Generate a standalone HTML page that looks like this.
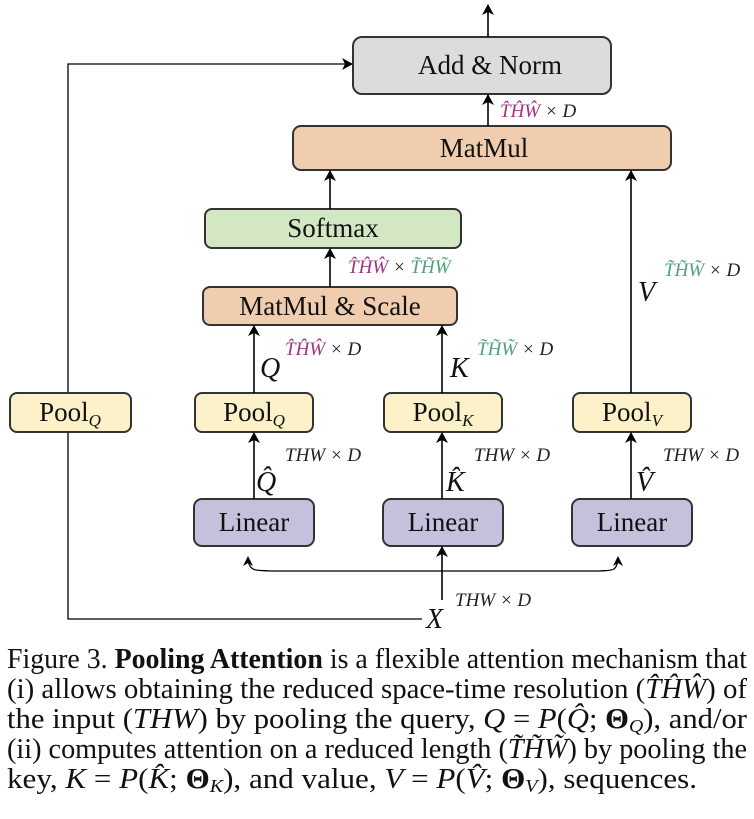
<!DOCTYPE html>
<html><head><meta charset="utf-8"><style>
html,body{margin:0;padding:0;background:#fff;}
svg{display:block;font-family:"Liberation Serif",serif;}
.it{font-style:italic}
</style></head><body>
<svg width="754" height="819" viewBox="0 0 754 819" xmlns="http://www.w3.org/2000/svg">
<defs>
<marker id="a" markerWidth="12" markerHeight="12" refX="10" refY="6" orient="auto" markerUnits="userSpaceOnUse">
<path d="M0,0 L11,6 L0,12 L3,6 z" fill="#000"/></marker>
</defs>
<g stroke="#333" stroke-width="2">
<rect x="353" y="37" width="258" height="57" rx="9" fill="#dcdcdc"/>
<rect x="293" y="126" width="378" height="44" rx="8" fill="#f1cdb0"/>
<rect x="205" y="209" width="256" height="39" rx="7" fill="#d3e7c3"/>
<rect x="203" y="287" width="254" height="38" rx="7" fill="#f1cdb0"/>
<rect x="195" y="393" width="118" height="39" rx="7" fill="#fcf1c9"/>
<rect x="384" y="393" width="118" height="39" rx="7" fill="#fcf1c9"/>
<rect x="573" y="393" width="118" height="39" rx="7" fill="#fcf1c9"/>
<rect x="194" y="499" width="120" height="47" rx="8" fill="#c5c0dc"/>
<rect x="383" y="499" width="120" height="47" rx="8" fill="#c5c0dc"/>
<rect x="572" y="499" width="120" height="47" rx="8" fill="#c5c0dc"/>
</g>
<g stroke="#000" stroke-width="1.6" fill="none">
<line x1="488" y1="37" x2="488" y2="5" marker-end="url(#a)"/>
<line x1="488" y1="126" x2="488" y2="95" marker-end="url(#a)"/>
<line x1="330" y1="209" x2="330" y2="171" marker-end="url(#a)"/>
<line x1="330" y1="287" x2="330" y2="249" marker-end="url(#a)"/>
<line x1="631" y1="393" x2="631" y2="171" marker-end="url(#a)"/>
<line x1="254" y1="393" x2="254" y2="326" marker-end="url(#a)"/>
<line x1="442" y1="393" x2="442" y2="326" marker-end="url(#a)"/>
<line x1="254" y1="499" x2="254" y2="433" marker-end="url(#a)"/>
<line x1="442" y1="499" x2="442" y2="433" marker-end="url(#a)"/>
<line x1="631" y1="499" x2="631" y2="433" marker-end="url(#a)"/>
<line x1="442" y1="600" x2="442" y2="547" marker-end="url(#a)"/>
<path d="M248,560 C250,572 256,570 270,571 L600,571 C612,570 616,572 618,560" stroke-width="1.3"/>
<path d="M422,619 L68,619 L68,64 L352,64" marker-end="url(#a)" stroke-width="1.3"/>
</g>
<path d="M248,556 L243,566 L248,563 L253,566 z" fill="#000"/>
<path d="M618,556 L613,566 L618,563 L623,566 z" fill="#000"/>
<rect x="10" y="393" width="121" height="39" rx="7" fill="#fcf1c9" stroke="#333" stroke-width="2"/>
<g font-size="27" text-anchor="middle" fill="#111">
<text x="490" y="74">Add &amp; Norm</text>
<text x="484" y="157">MatMul</text>
<text x="333" y="237">Softmax</text>
<text x="330" y="315">MatMul &amp; Scale</text>
<text x="70" y="421">Pool<tspan class="it" font-size="17" dy="5">Q</tspan></text>
<text x="254" y="421">Pool<tspan class="it" font-size="17" dy="5">Q</tspan></text>
<text x="443" y="421">Pool<tspan class="it" font-size="17" dy="5">K</tspan></text>
<text x="632" y="421">Pool<tspan class="it" font-size="17" dy="5">V</tspan></text>
<text x="254" y="531">Linear</text>
<text x="443" y="531">Linear</text>
<text x="632" y="531">Linear</text>
</g>
<g class="it" font-size="19" fill="#222">
<text x="500" y="117"><tspan fill="#a03382">T̂ĤŴ</tspan> × D</text>
<text x="348" y="273"><tspan fill="#a03382">T̂ĤŴ</tspan> × <tspan fill="#4fa37b">T̃H̃W̃</tspan></text>
<text x="285" y="355"><tspan fill="#a03382">T̂ĤŴ</tspan> × D</text>
<text x="477" y="355"><tspan fill="#4fa37b">T̃H̃W̃</tspan> × D</text>
<text x="664" y="276"><tspan fill="#4fa37b">T̃H̃W̃</tspan> × D</text>
<text x="285" y="461">THW × D</text>
<text x="474" y="461">THW × D</text>
<text x="663" y="461">THW × D</text>
<text x="455" y="606">THW × D</text>
</g>
<g class="it" font-size="28" fill="#111">
<text x="260" y="377">Q</text>
<text x="450" y="377">K</text>
<text x="638" y="301">V</text>
<text x="256" y="491">Q̂</text>
<text x="446" y="491">K̂</text>
<text x="636" y="491">V̂</text>
<text x="426" y="628">X</text>
</g>
<g font-size="28" fill="#111">
<text x="7" y="668" textLength="740" lengthAdjust="spacingAndGlyphs">Figure 3. <tspan font-weight="bold">Pooling Attention</tspan> is a flexible attention mechanism that</text>
<text x="7" y="698" textLength="740" lengthAdjust="spacingAndGlyphs">(i) allows obtaining the reduced space-time resolution (<tspan class="it">T̂ĤŴ</tspan>) of</text>
<text x="7" y="728" textLength="740" lengthAdjust="spacingAndGlyphs">the input (<tspan class="it">THW</tspan>) by pooling the query, <tspan class="it">Q</tspan> = <tspan class="it">P</tspan>(<tspan class="it">Q̂</tspan>; <tspan font-weight="bold">Θ</tspan><tspan class="it" font-size="18" dy="4">Q</tspan><tspan dy="-4">), and/or</tspan></text>
<text x="7" y="758" textLength="740" lengthAdjust="spacingAndGlyphs">(ii) computes attention on a reduced length (<tspan class="it">T̃H̃W̃</tspan>) by pooling the</text>
<text x="7" y="788" textLength="690" lengthAdjust="spacingAndGlyphs">key, <tspan class="it">K</tspan> = <tspan class="it">P</tspan>(<tspan class="it">K̂</tspan>; <tspan font-weight="bold">Θ</tspan><tspan class="it" font-size="18" dy="4">K</tspan><tspan dy="-4">), and value, </tspan><tspan class="it">V</tspan> = <tspan class="it">P</tspan>(<tspan class="it">V̂</tspan>; <tspan font-weight="bold">Θ</tspan><tspan class="it" font-size="18" dy="4">V</tspan><tspan dy="-4">), sequences.</tspan></text>
</g>
</svg>
</body></html>
